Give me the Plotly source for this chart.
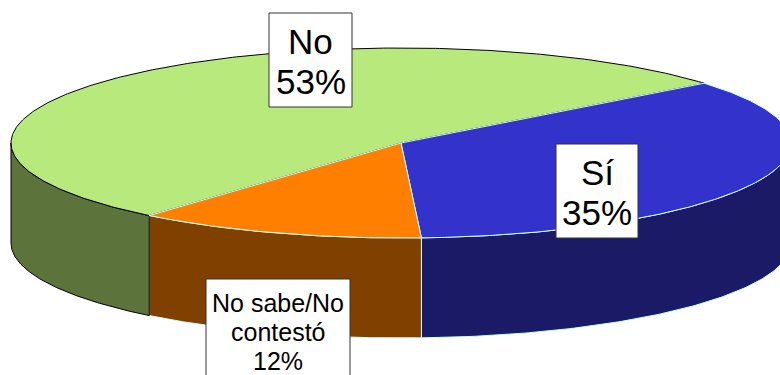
import numpy as np
import plotly.graph_objects as go

labels = ["Sí", "No sabe/No contestó", "No"]
values = [35, 12, 53]
top_colors = ["#3333CC", "#FF8000", "#B8E97C"]
side_colors = ["#1A1A66", "#804000", "#5C743C"]
edge_colors = ["#CCFFFF", "#CCFFFF", "#000000"]
box_lines = [["Sí", "35%"], ["No sabe/No", "contestó", "12%"], ["No", "53%"]]

CX, CY, RX, RY, DEPTH = 401, 143, 390, 95, 100
START = -39.0


def ell(t):
    return CX + RX * np.cos(t), CY + RY * np.sin(t)


fracs = np.array(values) / sum(values) * 360
ends = START + np.cumsum(fracs)
starts = ends - fracs

fig = go.Figure()

# outer walls: only the front half (0..180 deg) is visible
for s, e, col, edge in zip(starts, ends, side_colors, edge_colors):
    a, b = max(s, 0), min(e, 180)
    if b <= a:
        continue
    t = np.radians(np.linspace(a, b, 120))
    x, y = ell(t)
    xs = np.r_[x, x[::-1], x[0]]
    ys = np.r_[y, y[::-1] + DEPTH, y[0]]
    fig.add_trace(go.Scatter(x=xs, y=ys, mode="lines", fill="toself", fillcolor=col,
                             line=dict(color=edge, width=1), hoverinfo="skip", showlegend=False))

# top faces, largest (back) first
for i in [2, 0, 1]:
    t = np.radians(np.linspace(starts[i], ends[i], 300))
    x, y = ell(t)
    xs = np.r_[CX, x, CX]
    ys = np.r_[CY, y, CY]
    fig.add_trace(go.Scatter(x=xs, y=ys, mode="lines", fill="toself", fillcolor=top_colors[i],
                             line=dict(color=edge_colors[i], width=1), hoverinfo="skip", showlegend=False))

shapes = []
annotations = []
boxes = [(556, 144, 638, 238, 35, 40, 172), (206, 279, 350, 385, 25, 29, 303), (269, 13, 352, 107, 35, 40, 41)]
for lines, (x0, y0, x1, y1, size, step, first) in zip(box_lines, boxes):
    shapes.append(dict(type="rect", x0=x0, y0=y0, x1=x1, y1=y1, xref="x", yref="y",
                       fillcolor="#FFFFFF", line=dict(color="#333333", width=1), layer="above"))
    for k, line in enumerate(lines):
        annotations.append(dict(x=(x0 + x1) / 2, y=first + k * step, text=line, showarrow=False,
                                xref="x", yref="y", xanchor="center", yanchor="middle",
                                font=dict(family="Liberation Sans, Arial, sans-serif", size=size, color="#000000")))

fig.update_layout(
    width=780, height=375, margin=dict(l=0, r=0, t=0, b=0),
    paper_bgcolor="#FFFFFF", plot_bgcolor="#FFFFFF",
    xaxis=dict(range=[0, 780], visible=False, fixedrange=True),
    yaxis=dict(range=[375, 0], visible=False, fixedrange=True),
    shapes=shapes, annotations=annotations, showlegend=False,
)
fig.write_html("out.html", config=dict(displayModeBar=False), default_width="780px", default_height="375px",
               post_script="document.body.style.margin='0';document.body.style.overflow='hidden';")
